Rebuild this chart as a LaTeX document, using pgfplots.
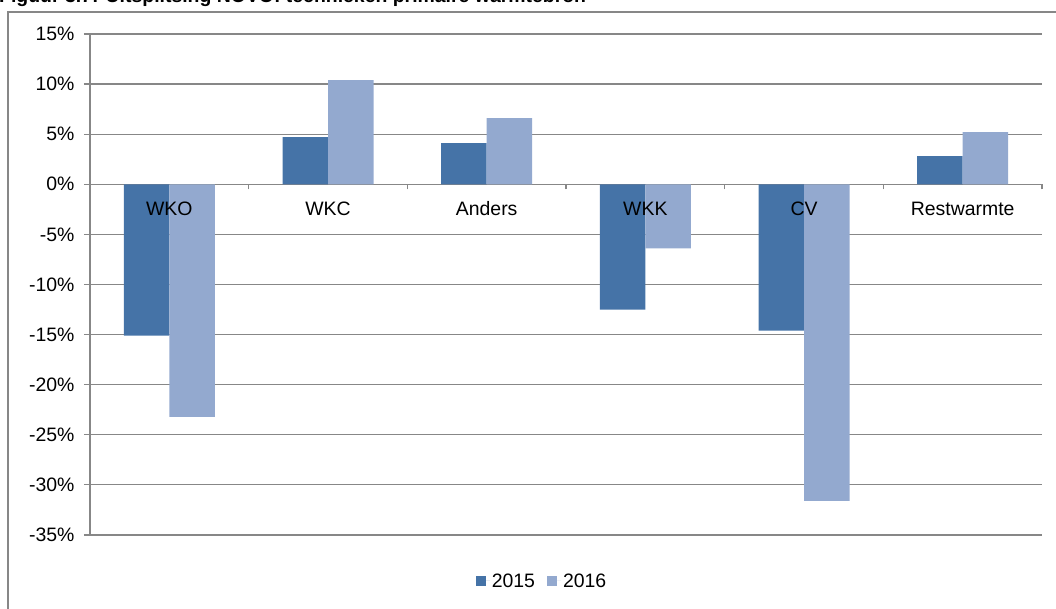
\documentclass[border=0pt]{standalone}
\usepackage{pgfplots}
\pgfplotsset{compat=1.18}
\usepackage{fontspec}
\setmainfont{Liberation Sans}
\definecolor{c15}{HTML}{4573A7}
\definecolor{c16}{HTML}{93A9CF}
\definecolor{gridc}{HTML}{878787}
\begin{document}
\begin{tikzpicture}[x=1bp,y=1bp]
\useasboundingbox (0,0) rectangle (1056,609);
\clip (0,0) rectangle (1056,609);
\draw[gridc, line width=1.2bp] (8,-20) -- (8,597) -- (1080,597);
\node[anchor=base west, font=\bfseries\fontsize{19.5}{22}\selectfont, inner sep=0] at (-1,606) {Figuur 3.7: Uitsplitsing NOVO: technieken primaire warmtebron};
\begin{axis}[
  at={(90bp,74bp)}, anchor=south west, scale only axis,
  width=952bp, height=501bp,
  xmin=-0.5, xmax=5.5, ymin=-35, ymax=15,
  ybar=0pt, bar width=45.5bp,
  axis y line*=left, axis x line*=middle,
  axis line style={gridc, line width=1.2bp, -},
  ytick={-35,-30,...,15},
  yticklabels={-35\%,-30\%,-25\%,-20\%,-15\%,-10\%,-5\%,0\%,5\%,10\%,15\%},
  ymajorgrids, grid style={gridc, line width=1.2bp},
  ytick style={gridc, line width=1.2bp},
  tick align=outside, major tick length=6bp,
  xtick=\empty,
  extra x ticks={-0.5,0.5,1.5,2.5,3.5,4.5,5.5},
  extra x tick labels={},
  extra x tick style={major tick length=5bp, tick style={draw=gridc, line width=1.2bp}},
  ticklabel style={font=\fontsize{19.5}{22}\selectfont},
  yticklabel style={xshift=-6bp},
  legend style={at={(0.4748,-0.0918)}, anchor=center, draw=none, fill=none,
    legend columns=2, font=\fontsize{19.5}{22}\selectfont,
    /tikz/every even column/.append style={column sep=10bp}},
  legend image code/.code={\fill[#1] (0bp,-5bp) rectangle (10bp,5bp);\path (0bp,0bp) -- (14bp,0bp);},
]
\addplot[fill=c15, draw=none] coordinates {(0,-15.1) (1,4.7) (2,4.1) (3,-12.5) (4,-14.6) (5,2.8)};
\addplot[fill=c16, draw=none] coordinates {(0,-23.2) (1,10.4) (2,6.6) (3,-6.4) (4,-31.6) (5,5.2)};
\legend{2015,2016}
\begin{scope}[every node/.style={anchor=base, yshift=-31bp, font=\fontsize{19.5}{22}\selectfont, inner sep=0}]
\node at (axis cs:0,0) {WKO};
\node at (axis cs:1,0) {WKC};
\node at (axis cs:2,0) {Anders};
\node at (axis cs:3,0) {WKK};
\node at (axis cs:4,0) {CV};
\node at (axis cs:5,0) {Restwarmte};
\end{scope}
\end{axis}
\end{tikzpicture}
\end{document}
